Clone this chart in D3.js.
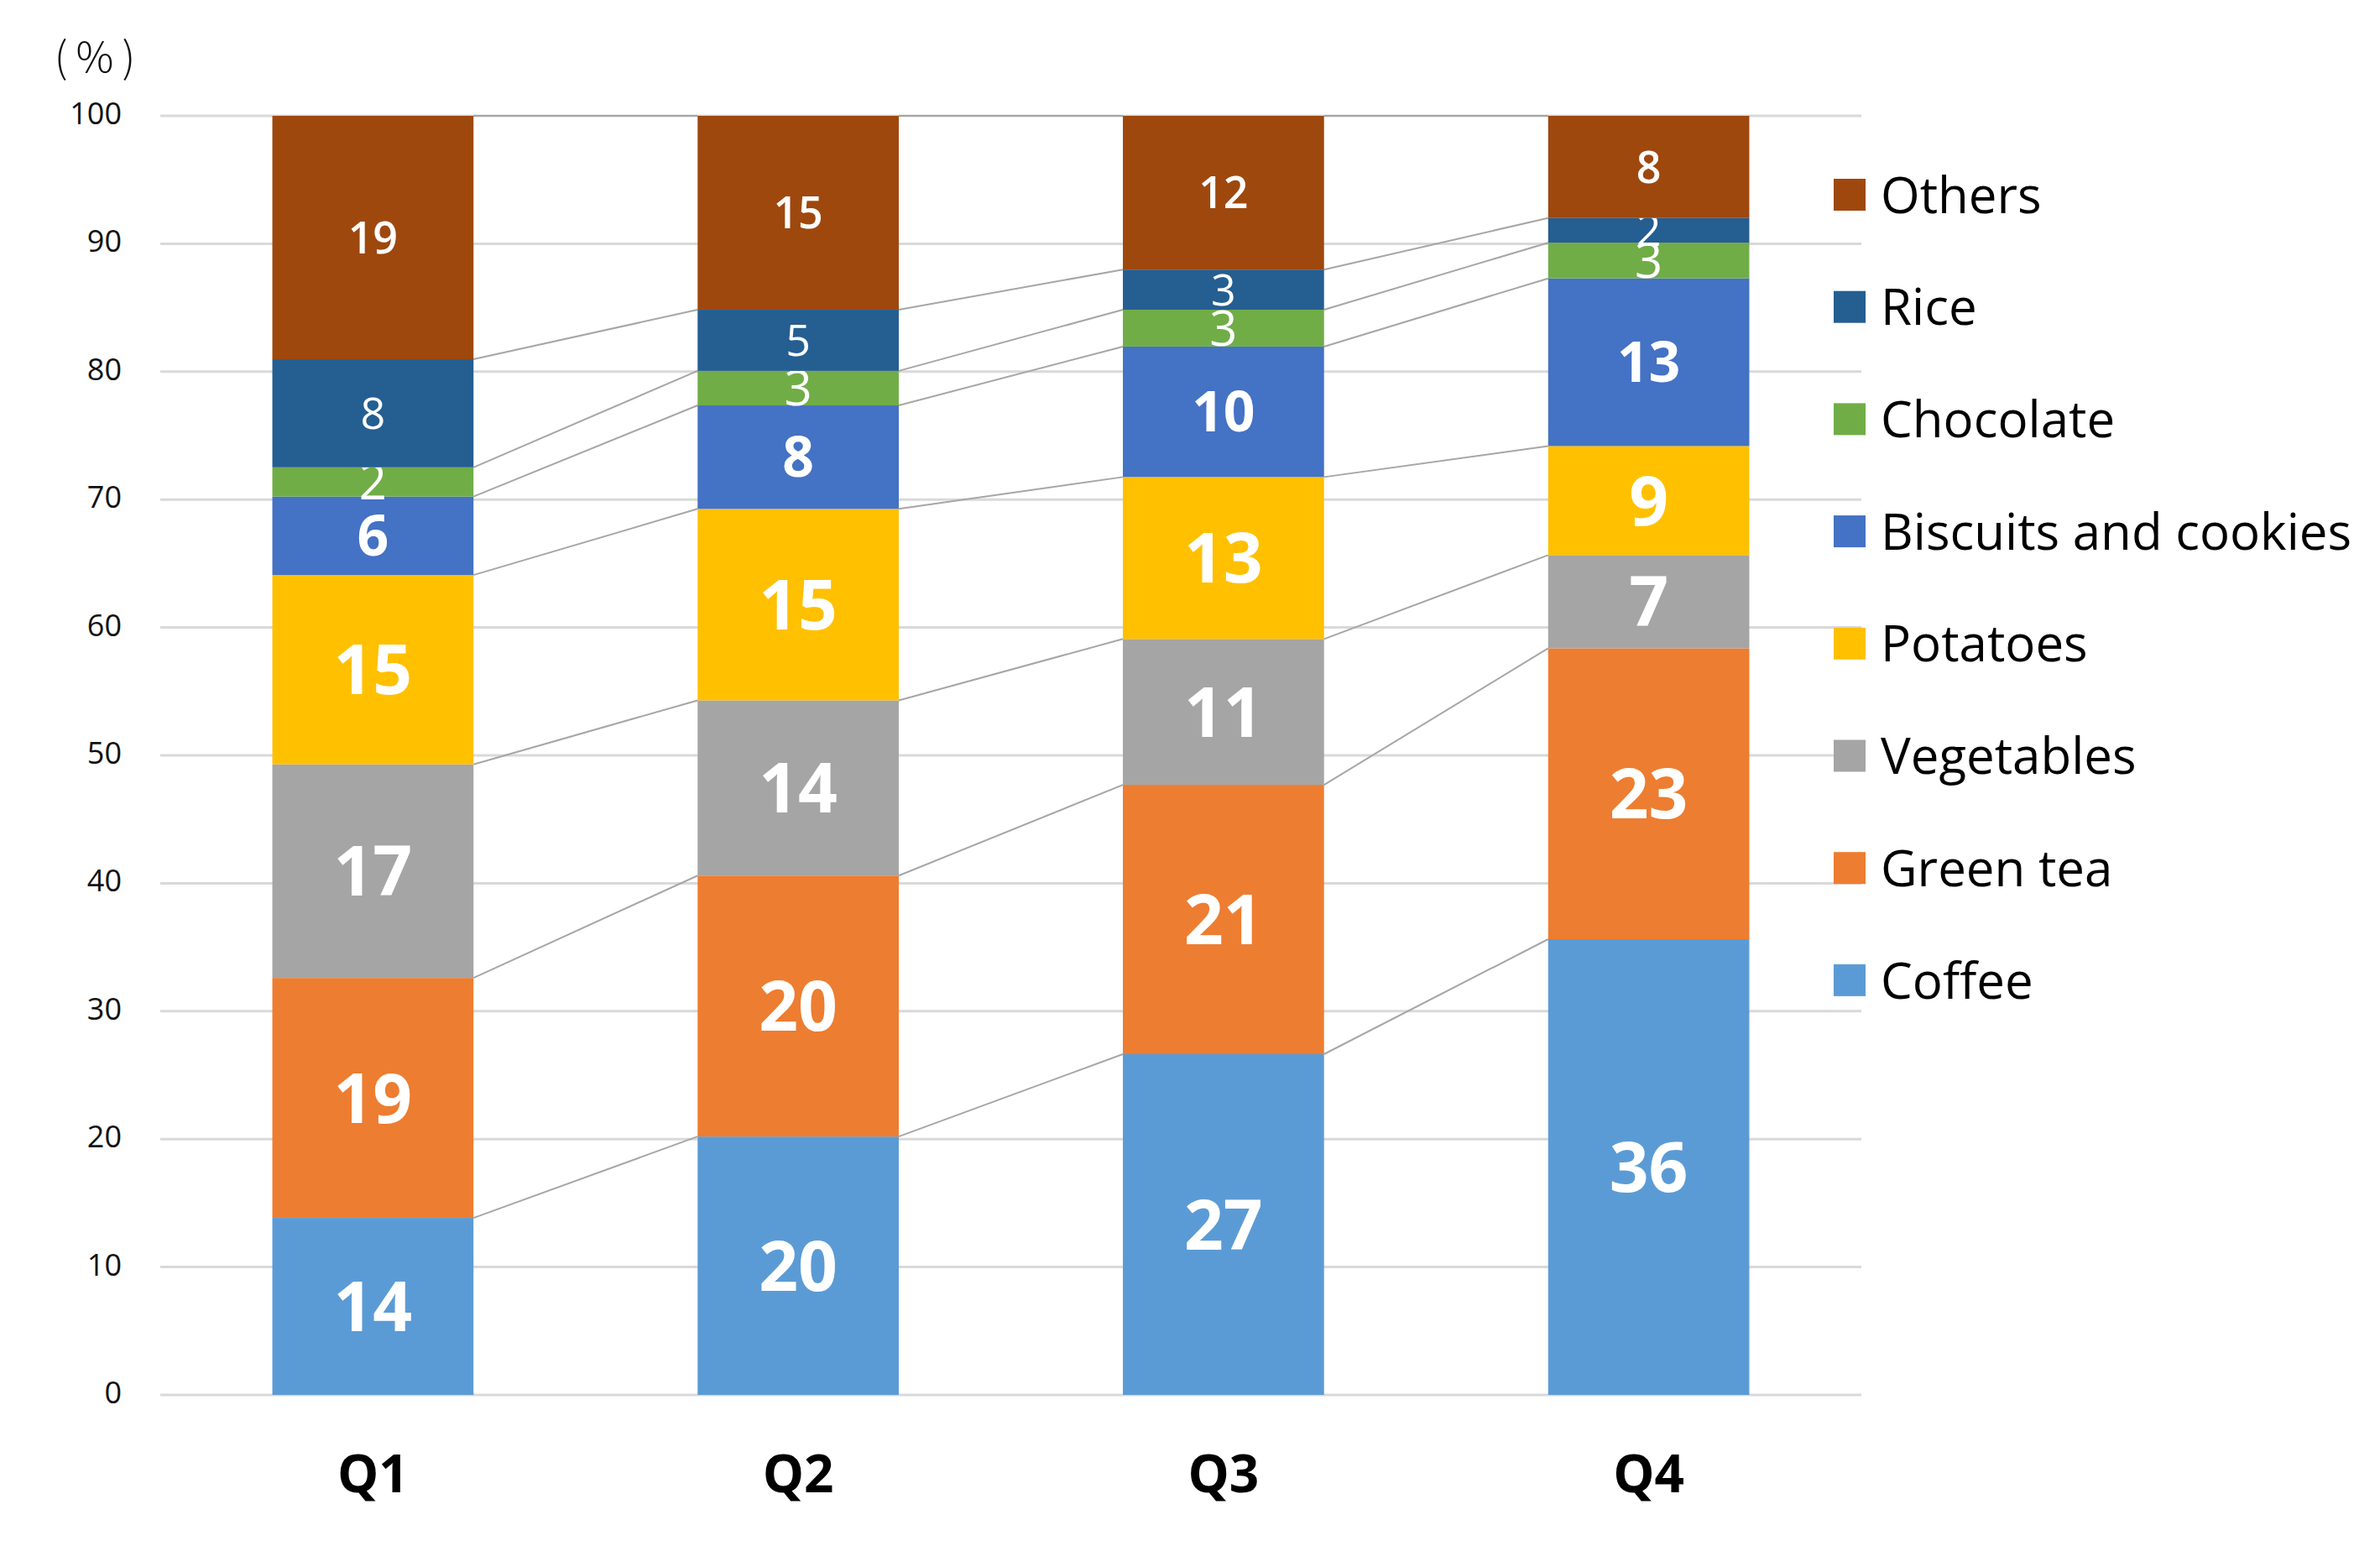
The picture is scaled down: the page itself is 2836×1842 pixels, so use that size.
<!DOCTYPE html>
<html>
<head>
<meta charset="utf-8">
<script src="https://cdn.jsdelivr.net/npm/d3@7"></script>
<style>
  body { margin: 0; background: #fff; }
  svg { display: block; }
</style>
</head>
<body>
<div id="canvas"></div>
<script>
// values (share of each quarter, %)
const quarters = ['Q1', 'Q2', 'Q3', 'Q4'];
const seriesNames = ['Coffee', 'Green tea', 'Vegetables', 'Potatoes', 'Biscuits and cookies', 'Chocolate', 'Rice', 'Others'];
const coffee = [13.84, 20.2, 26.64, 35.63];
const greenTea = [18.76, 20.4, 21.06, 22.74];
const vegetables = [16.7, 13.7, 11.4, 7.29];
const potatoes = [14.8, 14.97, 12.66, 8.52];
const biscuits = [6.13, 8.09, 10.2, 13.11];
const chocolate = [2.29, 2.7, 2.88, 2.79];
const rice = [8.45, 4.78, 3.14, 1.93];
const others = [19.03, 15.16, 12.02, 7.99];
const yTicks = [0, 10, 20, 30, 40, 50, 60, 70, 80, 90, 100];

const W = 2836, H = 1842;
const plotLeft = 191, plotRight = 2218, plotTop = 138, plotBottom = 1662;
const font = '"Open Sans", "DejaVu Sans", sans-serif';

const colors = {
  'Coffee': '#5B9BD5', 'Green tea': '#ED7D31', 'Vegetables': '#A5A5A5', 'Potatoes': '#FFC000',
  'Biscuits and cookies': '#4472C4', 'Chocolate': '#70AD47', 'Rice': '#255E91', 'Others': '#9E480E'
};
// label look per series: [font size, weight]
const labelStyle = {
  'Coffee': [82, 700], 'Green tea': [82, 700], 'Vegetables': [82, 700], 'Potatoes': [82, 700],
  'Biscuits and cookies': [66, 700], 'Chocolate': [58, 400], 'Rice': [52, 400], 'Others': [52, 600]
};

const columns = [coffee, greenTea, vegetables, potatoes, biscuits, chocolate, rice, others];
const rows = quarters.map((q, i) => {
  const r = { quarter: q };
  seriesNames.forEach((s, j) => r[s] = columns[j][i]);
  return r;
});
const stacked = d3.stack().keys(seriesNames)(rows);

const svg = d3.select('#canvas').append('svg')
  .attr('width', W)
  .attr('height', H)
  .style('background', '#fff');

const x = d3.scaleBand()
  .domain(quarters)
  .range([plotLeft, plotRight])
  .paddingInner(0.527)
  .paddingOuter(0.2635);

const y = d3.scaleLinear()
  .domain([0, 100])
  .range([plotBottom, plotTop]);

// gridlines
svg.append('g').selectAll('line')
  .data(yTicks)
  .enter().append('line')
  .attr('x1', plotLeft).attr('x2', plotRight)
  .attr('y1', d => y(d)).attr('y2', d => y(d))
  .attr('stroke', '#d9d9d9')
  .attr('stroke-width', 3);

// y axis labels
const yAxis = svg.append('g')
  .attr('transform', 'translate(145, -2)')
  .call(d3.axisLeft(y).tickValues(yTicks).tickSize(0).tickPadding(0));
yAxis.select('.domain').remove();
yAxis.selectAll('text')
  .attr('font-family', font)
  .attr('font-size', 36)
  .attr('fill', '#111');

svg.append('text')
  .text('(%)')
  .attr('x', 118).attr('y', 86)
  .attr('text-anchor', 'middle')
  .attr('font-family', '"Noto Sans CJK JP", sans-serif')
  .attr('font-weight', 300)
  .attr('font-size', 50)
  .attr('letter-spacing', 10)
  .attr('fill', '#111');

// x axis labels
const xAxis = svg.append('g')
  .attr('transform', `translate(0, ${plotBottom})`)
  .call(d3.axisBottom(x).tickSize(0));
xAxis.select('.domain').remove();
xAxis.selectAll('text')
  .attr('y', 116)
  .attr('dy', null)
  .attr('font-family', font)
  .attr('font-weight', 700)
  .attr('font-size', 62)
  .attr('fill', '#000');

// series lines between bars
const bw = x.bandwidth();
const links = [];
stacked.forEach(layer => {
  for (let i = 0; i < quarters.length - 1; i++) {
    links.push({ a: layer[i], b: layer[i + 1] });
  }
});
svg.append('g').selectAll('line')
  .data(links)
  .enter().append('line')
  .attr('x1', d => x(d.a.data.quarter) + bw)
  .attr('y1', d => y(d.a[1]))
  .attr('x2', d => x(d.b.data.quarter))
  .attr('y2', d => y(d.b[1]))
  .attr('stroke', '#a6a6a6')
  .attr('stroke-width', 2);

// bars
const layers = svg.append('g').selectAll('g')
  .data(stacked)
  .enter().append('g')
  .attr('fill', d => colors[d.key]);

layers.selectAll('rect')
  .data(d => d)
  .enter().append('rect')
  .attr('x', d => x(d.data.quarter))
  .attr('y', d => y(d[1]))
  .attr('width', bw)
  .attr('height', d => y(d[0]) - y(d[1]));

// data labels
layers.each(function (layer) {
  const st = labelStyle[layer.key];
  d3.select(this).selectAll('text')
    .data(layer)
    .enter().append('text')
    .text(d => Math.round(d[1] - d[0]))
    .attr('x', d => x(d.data.quarter) + bw / 2)
    .attr('y', d => y((d[0] + d[1]) / 2))
    .attr('dy', '0.36em')
    .attr('text-anchor', 'middle')
    .attr('font-family', font)
    .attr('font-size', st[0])
    .attr('font-weight', st[1])
    .attr('fill', '#fff');
});

// legend
const legend = svg.append('g').selectAll('g')
  .data(seriesNames.slice().reverse())
  .enter().append('g')
  .attr('transform', (d, i) => `translate(2185, ${232 + i * 133.7})`);

legend.append('rect')
  .attr('y', -19)
  .attr('width', 38)
  .attr('height', 38)
  .attr('fill', d => colors[d]);

legend.append('text')
  .text(d => d)
  .attr('x', 56)
  .attr('dy', '0.36em')
  .attr('font-family', font)
  .attr('font-size', 60)
  .attr('font-weight', 500)
  .attr('fill', '#000');
</script>
</body>
</html>
